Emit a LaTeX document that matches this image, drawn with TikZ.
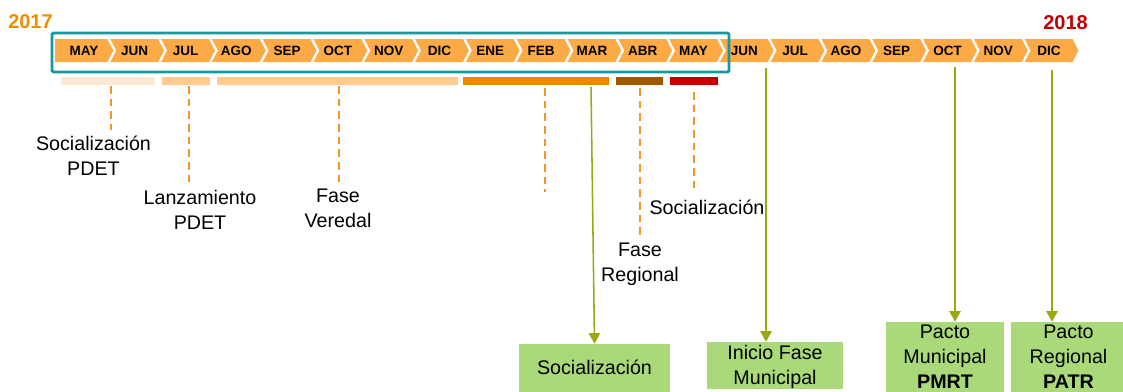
\documentclass[tikz,border=0pt]{standalone}
\usepackage{fontspec}
\setmainfont{Liberation Sans}
\usetikzlibrary{arrows.meta,fit}
\definecolor{chev}{RGB}{251,170,70}
\definecolor{framecol}{RGB}{23,152,160}
\definecolor{peach}{RGB}{253,234,214}
\definecolor{lightor}{RGB}{255,203,142}
\definecolor{darkor}{RGB}{237,135,0}
\definecolor{brownbar}{RGB}{156,87,0}
\definecolor{darkredbar}{RGB}{192,0,0}
\definecolor{dashor}{RGB}{243,150,40}
\definecolor{arrowgreen}{RGB}{155,168,20}
\definecolor{boxgreen}{RGB}{169,217,120}
\definecolor{orangeyear}{RGB}{240,140,0}
\begin{document}
\begin{tikzpicture}[x=0.025cm,y=-0.025cm,
  month/.style={font=\bfseries\fontsize{9.6}{11}\selectfont, inner sep=0},
  year/.style={font=\bfseries\fontsize{14.2}{17}\selectfont, inner sep=0},
  bar/.style={inner sep=0, draw=none},
  dashline/.style={draw=dashor, line width=1.4pt, dash pattern=on 5.5pt off 3.5pt, shorten >=4pt},
  lab/.style={font=\fontsize{14}{17.5}\selectfont, align=center, inner sep=0, anchor=north},
  greenbox/.style={fill=boxgreen, inner sep=0},
  greenarrow/.style={draw=arrowgreen, line width=1.1pt, -{Triangle[width=8pt,length=7.5pt]}}]
\useasboundingbox (0,0) rectangle (1123,391);
% month chevrons
\foreach \m [count=\i from 0] in {MAY,JUN,JUL,AGO,SEP,OCT,NOV,DIC,ENE,FEB,MAR,ABR,MAY,JUN,JUL,AGO,SEP,OCT,NOV,DIC} {
  \pgfmathsetmacro{\xl}{\i==0 ? 55 : 59.5+50.8*\i}
  \pgfmathsetmacro{\nd}{\i==0 ? 0 : 6}
  \pgfmathsetmacro{\xr}{56.5+50.8*(\i+1)}
  \fill[chev] (\xl,39) -- (\xr,39) -- (\xr+6,50.5) -- (\xr,62) -- (\xl,62) -- (\xl+\nd,50.5) -- cycle;
  \node[month] (m\i) at (83.9+50.8*\i,50.5) {\m};
}
\draw[framecol, line width=2.1pt, rounded corners=1pt] (52,33) rectangle (729,72);
\node[year, text=orangeyear] (y17) at (30.5,22) {2017};
\node[year, text=darkredbar] (y18) at (1065.5,23) {2018};
% phase bars
\node[bar, fill=peach, fit={(61,77) (155,85)}] (bar1) {};
\node[bar, fill=lightor, fit={(162,77) (210,85)}] (bar2) {};
\node[bar, fill=lightor, fit={(217,77) (458,85)}] (bar3) {};
\node[bar, fill=darkor, fit={(463,77) (609,85)}] (bar4) {};
\node[bar, fill=brownbar, fit={(616,77) (663,85)}] (bar5) {};
\node[bar, fill=darkredbar, fit={(670,77) (718,85)}] (bar6) {};
% labels
\node[lab] (lab1) at (93.5,136) {Socialización\\PDET};
\node[lab] (lab2) at (200,190) {Lanzamiento\\PDET};
\node[lab] (lab3) at (338,189) {Fase\\Veredal};
\node[lab] (lab5) at (640,243) {Fase\\Regional};
\node[lab] (lab6) at (707,200) {Socialización};
% dashed leaders
\coordinate (d1) at (111,86);
\coordinate (d2) at (189,86);
\coordinate (d3) at (339,86);
\coordinate (d4a) at (545,88);
\coordinate (d4b) at (545,192);
\coordinate (d5) at (640,88);
\coordinate (d6) at (694,92);
\draw[dashline] (d1) -- (d1 |- lab1.north);
\draw[dashline] (d2) -- (d2 |- lab2.north);
\draw[dashline] (d3) -- (d3 |- lab3.north);
\draw[dashline, shorten >=0pt] (d4a) -- (d4b);
\draw[dashline, shorten >=6pt] (d5) -- (d5 |- lab5.north);
\draw[dashline, shorten >=7pt] (d6) -- (d6 |- lab6.north);
% green boxes
\node[greenbox, fit={(519,344) (670,395)}] (box1) {};
\node[greenbox, fit={(707,342) (843,389)}] (box2) {};
\node[greenbox, fit={(886,322) (1004,395)}] (box3) {};
\node[greenbox, fit={(1011,322) (1130,395)}] (box4) {};
\node[lab] (t1) at (594.5,360) {Socialización};
\node[lab] (t2) at (775,345) {Inicio Fase\\Municipal};
\node[lab] (t3) at (945,325) {Pacto\\Municipal\\\textbf{PMRT}};
\node[lab] (t4) at (1068.5,325) {Pacto\\Regional\\\textbf{PATR}};
% milestones
\coordinate (g1) at (591,87);
\coordinate (g2) at (766,68);
\coordinate (g3) at (955,67);
\coordinate (g4) at (1052,70);
\draw[greenarrow] (g1) -- (box1.north);
\draw[greenarrow] (g2) -- (g2 |- box2.north);
\draw[greenarrow] (g3) -- (g3 |- box3.north);
\draw[greenarrow] (g4) -- (g4 |- box4.north);
\end{tikzpicture}
\end{document}
